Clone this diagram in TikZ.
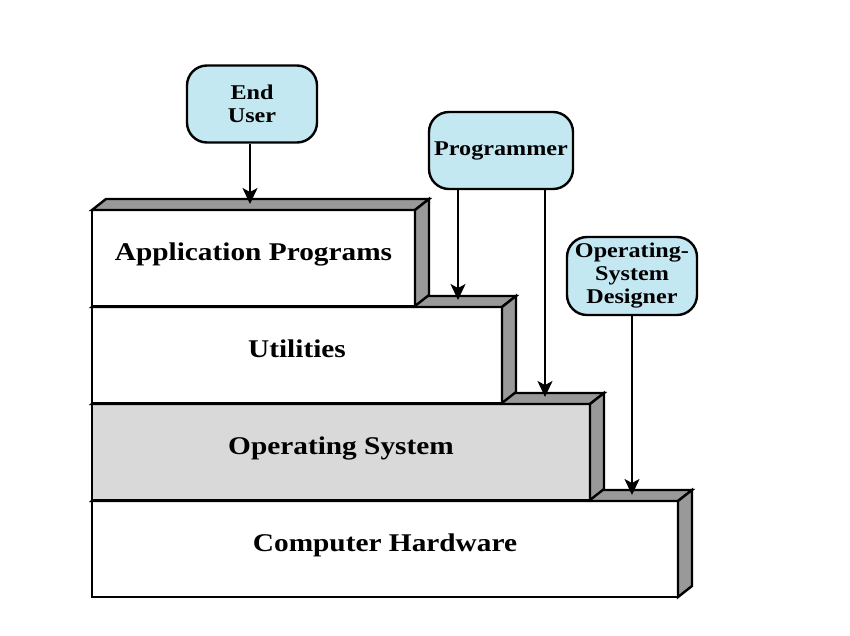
\documentclass[tikz,border=0pt]{standalone}
\usepackage{fontspec}
\setmainfont{Liberation Serif}[FakeStretch=1.15]
\usepackage{tikz}
\usetikzlibrary{positioning}
\usetikzlibrary{arrows.meta}

\definecolor{userblue}{RGB}{196,232,242}
\definecolor{sidegray}{RGB}{153,153,153}
\definecolor{osgray}{RGB}{217,217,217}

\begin{document}
\begin{tikzpicture}[x=1pt,y=-1pt,>={Stealth[length=16pt,width=15pt,inset=4pt]},line width=2.4pt,
	layer/.style={draw,anchor=north west,outer sep=0pt,minimum height=96pt,text depth=13pt,font=\fontsize{25.5}{27}\selectfont\bfseries},
	face/.style={draw,fill=sidegray},
	user/.style={draw,fill=userblue,rounded corners=20pt,align=center,inner sep=0pt,font=\fontsize{21}{23}\selectfont\bfseries},
	link/.style={->,line width=1.8pt}]
				\useasboundingbox (0,0) rectangle (850,635);

				% layers, bottom first
				\node[layer,fill=white,minimum width=586pt] (hw) at (92,501) {Computer Hardware};
				\filldraw[face] (hw.north west) -- ++(14,-11) -- ++(586,0) -- (hw.north east) -- cycle;
				\filldraw[face] (hw.north east) -- ++(14,-11) -- ++(0,96) -- (hw.south east) -- cycle;

				\node[layer,fill=osgray,minimum width=498pt] (os) at (92,404) {Operating System};
				\filldraw[face] (os.north west) -- ++(14,-11) -- ++(498,0) -- (os.north east) -- cycle;
				\filldraw[face] (os.north east) -- ++(14,-11) -- ++(0,96) -- (os.south east) -- cycle;

				\node[layer,fill=white,minimum width=410pt] (util) at (92,307) {Utilities};
				\filldraw[face] (util.north west) -- ++(14,-11) -- ++(410,0) -- (util.north east) -- cycle;
				\filldraw[face] (util.north east) -- ++(14,-11) -- ++(0,96) -- (util.south east) -- cycle;

				\node[layer,fill=white,minimum width=323pt] (app) at (92,210) {Application Programs};
				\filldraw[face] (app.north west) -- ++(14,-11) -- ++(323,0) -- (app.north east) -- cycle;
				\filldraw[face] (app.north east) -- ++(14,-11) -- ++(0,96) -- (app.south east) -- cycle;

				% users
				\node[user,minimum width=130pt,minimum height=77pt] (eu) at (252,104) {End\\User};
				\node[user,minimum width=144pt,minimum height=77pt] (prog) at (501,150.5) {Programmer};
				\node[user,minimum width=130pt,minimum height=78pt] (osd) at (632,276) {Operating-\\System\\Designer};

				\coordinate (appTop) at (250,204);
				\coordinate (utilTop) at (458,300);
				\coordinate (osTop) at (545,397);
				\coordinate (hwTop) at (632,495);

				\draw[link] (eu.south -| appTop) -- (appTop);
				\draw[link] (prog.south -| utilTop) -- (utilTop);
				\draw[link] (prog.south -| osTop) -- (osTop);
				\draw[link] (osd.south) -- (hwTop);
\end{tikzpicture}
\end{document}
